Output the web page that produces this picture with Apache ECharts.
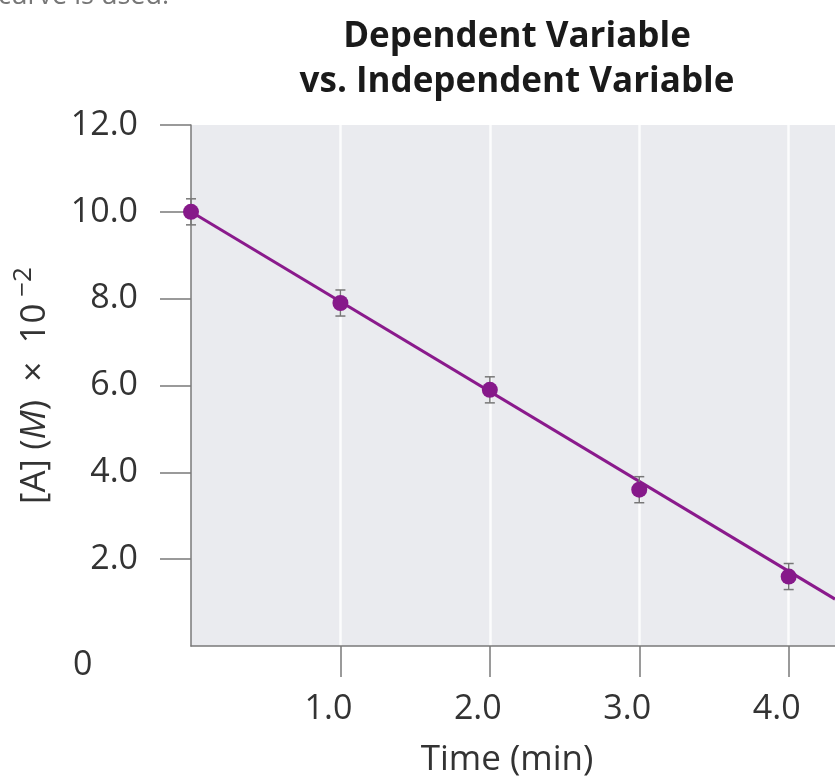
<!DOCTYPE html>
<html>
<head>
<meta charset="utf-8">
<script src="https://cdn.jsdelivr.net/npm/echarts@6/dist/echarts.min.js"></script>
<style>html,body{margin:0;padding:0;background:#fff}#c{width:835px;height:783px}</style>
</head>
<body>
<div id="c"></div>
<script>
const times = [0, 1, 2, 3, 4];
const conc = [10.0, 7.9, 5.9, 3.6, 1.6];
const errs = [0.3, 0.3, 0.3, 0.3, 0.3];
const fitLine = [[0, 10.0], [4.31, 1.08]];
const xTicks = [1, 2, 3, 4];
const yTicks = [2, 4, 6, 8, 10, 12];

const FONT = '"Open Sans", "Noto Sans", sans-serif';
const chart = echarts.init(document.getElementById('c'));
const pts = times.map((t, i) => [t, conc[i]]);
const errData = times.map((t, i) => [t, conc[i] - errs[i], conc[i] + errs[i]]);

chart.setOption({
  animation: false,
  title: {
    text: 'Dependent Variable\nvs. Independent Variable',
    left: 512, top: 10, textAlign: 'center',
    textStyle: { fontFamily: FONT, fontWeight: 'bold', fontSize: 35, lineHeight: 45, color: '#1a1a1a' }
  },
  graphic: [
    { type: 'text', x: -2, y: -17, style: { text: 'curve is used.', font: '27px ' + FONT, fill: '#777' } },
    { type: 'text', left: 73, top: 648, style: { text: '0', font: '34px ' + FONT, fill: '#333' } }
  ],
  grid: { left: 191, top: 125, right: 0, bottom: 135, show: true, backgroundColor: '#eaebef', borderWidth: 0 },
  xAxis: {
    type: 'value', min: 0, max: 4.31, interval: 1,
    name: 'Time (min)', nameLocation: 'middle', nameGap: 97,
    nameTextStyle: { fontFamily: FONT, fontSize: 35, color: '#333', padding: [0, 12, 0, 0] },
    axisLine: { show: true, lineStyle: { color: '#7a7a7a', width: 1.5 } },
    axisTick: { show: true, length: 31, customValues: xTicks, lineStyle: { color: '#7a7a7a', width: 1.5 } },
    axisLabel: { customValues: xTicks, margin: 46, fontFamily: FONT, fontSize: 34, color: '#333',
      padding: [0, 24, 0, 0], formatter: v => v.toFixed(1) },
    splitLine: { show: true, lineStyle: { color: '#fff', width: 2.5, opacity: 0.85 } }
  },
  yAxis: {
    type: 'value', min: 0, max: 12, interval: 2,
    name: '[A] ({i|M})  ×  10{sup| −2}', nameLocation: 'middle', nameGap: 132, nameRotate: 90,
    nameTextStyle: { fontFamily: FONT, fontSize: 35, color: '#333',
      rich: { i: { fontFamily: FONT, fontSize: 35, fontStyle: 'italic', color: '#333' },
              sup: { fontFamily: FONT, fontSize: 26, color: '#333', verticalAlign: 'bottom', padding: [0, 0, 22, 0] } } },
    axisLine: { show: true, lineStyle: { color: '#7a7a7a', width: 1.5 } },
    axisTick: { show: true, inside: false, length: 31, customValues: yTicks, lineStyle: { color: '#7a7a7a', width: 1.5 } },
    axisLabel: { customValues: yTicks, margin: 53, fontFamily: FONT, fontSize: 34, color: '#333',
      formatter: v => v.toFixed(1) },
    splitLine: { show: false }
  },
  series: [
    { type: 'line', data: fitLine, symbol: 'none', lineStyle: { color: '#8a1a8c', width: 3 }, z: 2 },
    {
      type: 'custom', z: 3,
      data: errData,
      renderItem: (params, api) => {
        const x = api.value(0);
        const lo = api.coord([x, api.value(1)]);
        const hi = api.coord([x, api.value(2)]);
        const w = 5;
        const st = { stroke: '#777', lineWidth: 1.5 };
        return { type: 'group', children: [
          { type: 'line', shape: { x1: lo[0], y1: lo[1], x2: hi[0], y2: hi[1] }, style: st },
          { type: 'line', shape: { x1: lo[0] - w, y1: lo[1], x2: lo[0] + w, y2: lo[1] }, style: st },
          { type: 'line', shape: { x1: hi[0] - w, y1: hi[1], x2: hi[0] + w, y2: hi[1] }, style: st }
        ] };
      }
    },
    { type: 'scatter', data: pts, symbol: 'circle', symbolSize: 16, itemStyle: { color: '#86198a', opacity: 1 }, z: 4 }
  ]
});
</script>
</body>
</html>
